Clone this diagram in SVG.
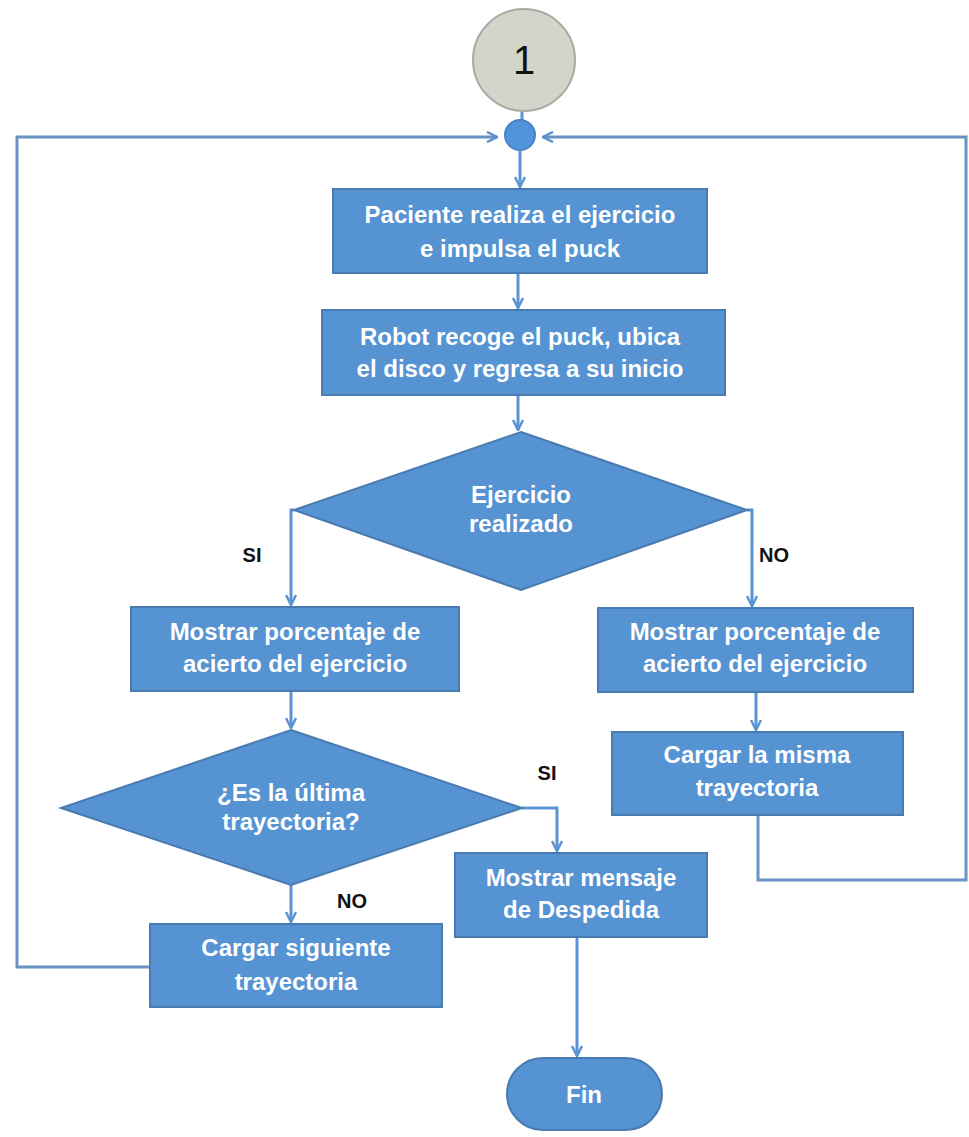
<svg xmlns="http://www.w3.org/2000/svg" width="969" height="1137" viewBox="0 0 969 1137">
<defs>
<marker id="arr" viewBox="0 0 12 12" refX="11" refY="6" markerWidth="12" markerHeight="12" markerUnits="userSpaceOnUse" orient="auto">
<path d="M1,1 L11,6 L1,11" fill="none" stroke="#5b93d3" stroke-width="2.5"/>
</marker>
<style>
.box{fill:#5593d3;stroke:#4a7bb0;stroke-width:2}
.t{fill:#ffffff;font-family:"Liberation Sans Narrow","Liberation Sans",Arial,sans-serif;font-weight:bold;font-size:24px;text-anchor:middle}
.lbl{fill:#111111;font-family:"Liberation Sans Narrow","Liberation Sans",Arial,sans-serif;font-weight:bold;font-size:20px;text-anchor:middle}
.c{fill:none;stroke:#5b93d3;stroke-width:3}
.loop{fill:none;stroke:#6a93c4;stroke-width:3}
</style>
</defs>
<rect width="969" height="1137" fill="#ffffff"/>
<g id="connectors">
<path class="loop" d="M150,967 L17,967 L17,137 L497,137" marker-end="url(#arr)"/>
<path class="loop" d="M758,815 L758,880 L966,880 L966,137 L543,137" marker-end="url(#arr)"/>
<path class="c" d="M522,110 L522,120"/>
<path class="c" d="M520,151 L520,187" marker-end="url(#arr)"/>
<path class="c" d="M518,273 L518,308" marker-end="url(#arr)"/>
<path class="c" d="M518,395 L518,430" marker-end="url(#arr)"/>
<path class="c" d="M294,510 L291,510 L291,605" marker-end="url(#arr)"/>
<path class="c" d="M747,510 L752,510 L752,606" marker-end="url(#arr)"/>
<path class="c" d="M291,691 L291,728" marker-end="url(#arr)"/>
<path class="c" d="M756,692 L756,730" marker-end="url(#arr)"/>
<path class="c" d="M291,885 L291,922" marker-end="url(#arr)"/>
<path class="c" d="M522,808 L557,808 L557,851" marker-end="url(#arr)"/>
<path class="c" d="M577,937 L577,1056" marker-end="url(#arr)"/>
</g>
<g id="start">
<circle cx="524" cy="60" r="51" fill="#d3d5ca" stroke="#a9aba2" stroke-width="2"/>
<text x="524" y="74" font-family="'Liberation Sans',Arial,sans-serif" font-size="40" fill="#111" text-anchor="middle">1</text>
</g>
<g id="junction">
<circle cx="520" cy="135" r="15" fill="#4f94dc" stroke="#4a82c0" stroke-width="2"/>
</g>
<g id="n1">
<rect class="box" x="333" y="189" width="374" height="84"/>
<text class="t" x="520" y="223">Paciente realiza el ejercicio</text>
<text class="t" x="520" y="257">e impulsa el puck</text>
</g>
<g id="n2">
<rect class="box" x="322" y="310" width="403" height="85"/>
<text class="t" x="520" y="345">Robot recoge el puck, ubica</text>
<text class="t" x="520" y="377">el disco y regresa a su inicio</text>
</g>
<g id="d1">
<polygon class="box" points="521,432 747,510 521,590 294,510"/>
<text class="t" x="521" y="503">Ejercicio</text>
<text class="t" x="521" y="532">realizado</text>
</g>
<g id="n3">
<rect class="box" x="131" y="607" width="328" height="84"/>
<text class="t" x="295" y="640">Mostrar porcentaje de</text>
<text class="t" x="295" y="672">acierto del ejercicio</text>
</g>
<g id="n4">
<rect class="box" x="598" y="608" width="315" height="84"/>
<text class="t" x="755" y="640">Mostrar porcentaje de</text>
<text class="t" x="755" y="672">acierto del ejercicio</text>
</g>
<g id="d2">
<polygon class="box" points="291,730 522,808 291,885 61,808"/>
<text class="t" x="291" y="801">¿Es la última</text>
<text class="t" x="291" y="830">trayectoria?</text>
</g>
<g id="n5">
<rect class="box" x="612" y="732" width="291" height="83"/>
<text class="t" x="757" y="763">Cargar la misma</text>
<text class="t" x="757" y="796">trayectoria</text>
</g>
<g id="n6">
<rect class="box" x="455" y="853" width="252" height="84"/>
<text class="t" x="581" y="886">Mostrar mensaje</text>
<text class="t" x="581" y="918">de Despedida</text>
</g>
<g id="n7">
<rect class="box" x="150" y="924" width="292" height="83"/>
<text class="t" x="296" y="956">Cargar siguiente</text>
<text class="t" x="296" y="990">trayectoria</text>
</g>
<g id="end">
<rect class="box" x="507" y="1058" width="155" height="72" rx="36"/>
<text class="t" x="584" y="1103">Fin</text>
</g>
<g id="labels">
<text class="lbl" x="252" y="562">SI</text>
<text class="lbl" x="774" y="562">NO</text>
<text class="lbl" x="547" y="780">SI</text>
<text class="lbl" x="352" y="908">NO</text>
</g>
</svg>
